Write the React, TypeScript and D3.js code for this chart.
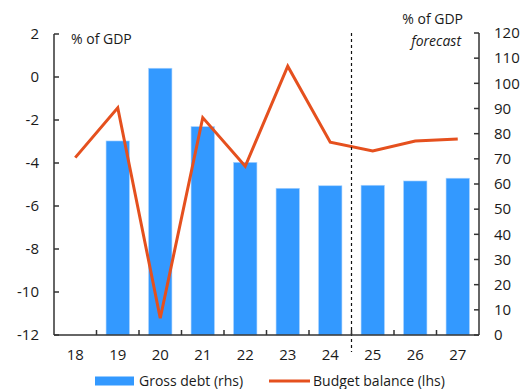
import React from "react";
import * as d3 from "d3";

const years = ["18", "19", "20", "21", "22", "23", "24", "25", "26", "27"];
const grossDebt: (number | null)[] = [null, 77.1, 106.0, 82.8, 68.6, 58.3, 59.3, 59.5, 61.2, 62.3];
const budgetBalance = [-3.75, -1.43, -11.22, -1.89, -4.15, 0.5, -3.03, -3.44, -2.98, -2.88];
const leftTicks = [2, 0, -2, -4, -6, -8, -10, -12];
const rightTicks = [120, 110, 100, 90, 80, 70, 60, 50, 40, 30, 20, 10, 0];
const forecastStart = "25";

const W = 524, H = 389;
const plot = { left: 54, right: 479, top: 34, bottom: 335 };
const FONT = "'Open Sans', sans-serif";
const TEXT = "#1a1a1a";
const AXIS = "#333";
const BAR = "#3399ff";
const LINE = "#e5501e";

export default function App() {
  const x = d3.scaleBand<string>().domain(years).range([plot.left, plot.right]).paddingInner(0.45).paddingOuter(0.225);
  const xb = d3.scaleBand<string>().domain(years).range([plot.left, plot.right]);
  const yL = d3.scaleLinear().domain([-12, 2]).range([plot.bottom, plot.top]);
  const yR = d3.scaleLinear().domain([0, 120]).range([plot.bottom, 33]);
  const line = d3.line<number>().x((_, i) => (xb(years[i]) as number) + xb.bandwidth() / 2).y((d) => yL(d));
  const dashX = xb(forecastStart) as number;

  return (
    <svg width={W} height={H} style={{ position: "absolute", left: 0, top: 0 }} fontFamily={FONT}>
      {grossDebt.map((v, i) =>
        v == null ? null : (
          <rect key={i} x={x(years[i])} y={yR(v)} width={x.bandwidth()} height={yR(0) - yR(v)} fill={BAR} stroke="#a9d3ff" strokeWidth={0.6} />
        )
      )}
      <path d={line(budgetBalance) || ""} fill="none" stroke={LINE} strokeWidth={3} strokeLinejoin="miter" />
      <line x1={dashX} x2={dashX} y1={33} y2={352} stroke="#111" strokeWidth={1.2} strokeDasharray="3,3" />
      {/* left axis */}
      <line x1={plot.left} x2={plot.left} y1={plot.top} y2={plot.bottom} stroke={AXIS} strokeWidth={1.5} />
      {leftTicks.map((t) => (
        <g key={t}>
          <line x1={plot.left} x2={plot.left + 5} y1={yL(t)} y2={yL(t)} stroke={AXIS} strokeWidth={1.5} />
          <text x={39} y={yL(t)} dy="0.35em" textAnchor="end" fontSize={15} fill={TEXT}>{t}</text>
        </g>
      ))}
      {/* right axis */}
      <line x1={plot.right} x2={plot.right} y1={33} y2={plot.bottom} stroke={AXIS} strokeWidth={1.5} />
      {rightTicks.map((t) => (
        <g key={t}>
          <line x1={plot.right - 5} x2={plot.right} y1={yR(t)} y2={yR(t)} stroke={AXIS} strokeWidth={1.5} />
          <text x={494} y={yR(t)} dy="0.35em" textAnchor="start" fontSize={15} fill={TEXT}>{t}</text>
        </g>
      ))}
      {/* bottom axis */}
      <line x1={plot.left} x2={plot.right} y1={plot.bottom} y2={plot.bottom} stroke={AXIS} strokeWidth={1.5} />
      {years.map((y, i) => (
        <g key={y}>
          {i > 0 && <line x1={xb(y)} x2={xb(y)} y1={plot.bottom - 5} y2={plot.bottom} stroke={AXIS} strokeWidth={1.5} />}
          <text x={(xb(y) as number) + xb.bandwidth() / 2} y={360} textAnchor="middle" fontSize={15} fill={TEXT}>{y}</text>
        </g>
      ))}
      <text x={71} y={44} fontSize={14} fill={TEXT}>% of GDP</text>
      <text x={463} y={24} fontSize={14} fill={TEXT} textAnchor="end">% of GDP</text>
      <text x={461} y={46} fontSize={14} fill={TEXT} textAnchor="end" fontStyle="italic">forecast</text>
      {/* legend */}
      <rect x={95} y={376.5} width={39} height={9} fill={BAR} />
      <text x={139} y={386} fontSize={14} fill={TEXT}>Gross debt (rhs)</text>
      <line x1={269} x2={310} y1={381} y2={381} stroke={LINE} strokeWidth={3} />
      <text x={313} y={386} fontSize={14} fill={TEXT}>Budget balance (lhs)</text>
    </svg>
  );
}
